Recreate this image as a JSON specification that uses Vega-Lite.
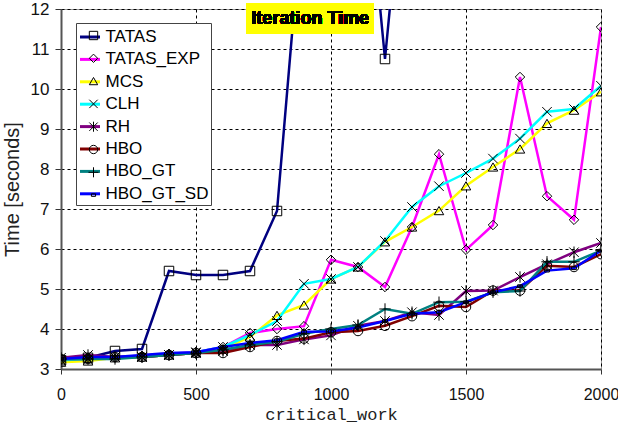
{
  "$schema": "https://vega.github.io/schema/vega-lite/v6.json",
  "width": 540,
  "height": 360,
  "autosize": {"type": "none"},
  "padding": {"left": 61, "top": 9, "right": 17, "bottom": 58},
  "background": "white",
  "config": {
    "font": "Liberation Sans",
    "view": {"stroke": "#999999", "strokeWidth": 1},
    "axis": {
      "domainColor": "#555555",
      "domainWidth": 2,
      "tickColor": "#333333",
      "tickSize": 5,
      "labelFont": "Liberation Sans",
      "labelFontSize": 16,
      "labelColor": "#111111",
      "labelOverlap": false,
      "labelFlush": false,
      "grid": true,
      "gridColor": "black",
      "gridDash": [3, 3],
      "gridWidth": 1,
      "titleFontWeight": "normal",
      "titleColor": "#222222"
    }
  },
  "data": {
    "values": [
      {"s": "TATAS", "x": 0, "y": 3.22}, {"s": "TATAS", "x": 100, "y": 3.28}, {"s": "TATAS", "x": 200, "y": 3.45}, {"s": "TATAS", "x": 300, "y": 3.5}, {"s": "TATAS", "x": 400, "y": 5.45}, {"s": "TATAS", "x": 500, "y": 5.35}, {"s": "TATAS", "x": 600, "y": 5.35}, {"s": "TATAS", "x": 700, "y": 5.45}, {"s": "TATAS", "x": 800, "y": 6.95}, {"s": "TATAS", "x": 900, "y": 14.9}, {"s": "TATAS", "x": 1000, "y": 17.0}, {"s": "TATAS", "x": 1100, "y": 17.8}, {"s": "TATAS", "x": 1200, "y": 10.75}, {"s": "TATAS", "x": 1300, "y": 17.8},
      {"s": "TATAS_EXP", "x": 0, "y": 3.25}, {"s": "TATAS_EXP", "x": 100, "y": 3.28}, {"s": "TATAS_EXP", "x": 200, "y": 3.3}, {"s": "TATAS_EXP", "x": 300, "y": 3.33}, {"s": "TATAS_EXP", "x": 400, "y": 3.38}, {"s": "TATAS_EXP", "x": 500, "y": 3.42}, {"s": "TATAS_EXP", "x": 600, "y": 3.55}, {"s": "TATAS_EXP", "x": 700, "y": 3.9}, {"s": "TATAS_EXP", "x": 800, "y": 4.0}, {"s": "TATAS_EXP", "x": 900, "y": 4.07}, {"s": "TATAS_EXP", "x": 1000, "y": 5.73}, {"s": "TATAS_EXP", "x": 1100, "y": 5.55}, {"s": "TATAS_EXP", "x": 1200, "y": 5.05}, {"s": "TATAS_EXP", "x": 1300, "y": 6.55}, {"s": "TATAS_EXP", "x": 1400, "y": 8.37}, {"s": "TATAS_EXP", "x": 1500, "y": 5.98}, {"s": "TATAS_EXP", "x": 1600, "y": 6.6}, {"s": "TATAS_EXP", "x": 1700, "y": 10.3}, {"s": "TATAS_EXP", "x": 1800, "y": 7.32}, {"s": "TATAS_EXP", "x": 1900, "y": 6.73}, {"s": "TATAS_EXP", "x": 2000, "y": 11.55},
      {"s": "MCS", "x": 0, "y": 3.17}, {"s": "MCS", "x": 100, "y": 3.2}, {"s": "MCS", "x": 200, "y": 3.28}, {"s": "MCS", "x": 300, "y": 3.3}, {"s": "MCS", "x": 400, "y": 3.35}, {"s": "MCS", "x": 500, "y": 3.4}, {"s": "MCS", "x": 600, "y": 3.5}, {"s": "MCS", "x": 700, "y": 3.8}, {"s": "MCS", "x": 800, "y": 4.34}, {"s": "MCS", "x": 900, "y": 4.6}, {"s": "MCS", "x": 1000, "y": 5.25}, {"s": "MCS", "x": 1100, "y": 5.55}, {"s": "MCS", "x": 1200, "y": 6.18}, {"s": "MCS", "x": 1300, "y": 6.55}, {"s": "MCS", "x": 1400, "y": 6.96}, {"s": "MCS", "x": 1500, "y": 7.58}, {"s": "MCS", "x": 1600, "y": 8.05}, {"s": "MCS", "x": 1700, "y": 8.5}, {"s": "MCS", "x": 1800, "y": 9.14}, {"s": "MCS", "x": 1900, "y": 9.47}, {"s": "MCS", "x": 2000, "y": 9.93},
      {"s": "CLH", "x": 0, "y": 3.22}, {"s": "CLH", "x": 100, "y": 3.25}, {"s": "CLH", "x": 200, "y": 3.3}, {"s": "CLH", "x": 300, "y": 3.3}, {"s": "CLH", "x": 400, "y": 3.35}, {"s": "CLH", "x": 500, "y": 3.42}, {"s": "CLH", "x": 600, "y": 3.55}, {"s": "CLH", "x": 700, "y": 3.85}, {"s": "CLH", "x": 800, "y": 4.2}, {"s": "CLH", "x": 900, "y": 5.13}, {"s": "CLH", "x": 1000, "y": 5.25}, {"s": "CLH", "x": 1100, "y": 5.55}, {"s": "CLH", "x": 1200, "y": 6.2}, {"s": "CLH", "x": 1300, "y": 7.05}, {"s": "CLH", "x": 1400, "y": 7.57}, {"s": "CLH", "x": 1500, "y": 7.9}, {"s": "CLH", "x": 1600, "y": 8.26}, {"s": "CLH", "x": 1700, "y": 8.76}, {"s": "CLH", "x": 1800, "y": 9.43}, {"s": "CLH", "x": 1900, "y": 9.5}, {"s": "CLH", "x": 2000, "y": 10.08},
      {"s": "RH", "x": 0, "y": 3.28}, {"s": "RH", "x": 100, "y": 3.35}, {"s": "RH", "x": 200, "y": 3.3}, {"s": "RH", "x": 300, "y": 3.3}, {"s": "RH", "x": 400, "y": 3.35}, {"s": "RH", "x": 500, "y": 3.4}, {"s": "RH", "x": 600, "y": 3.45}, {"s": "RH", "x": 700, "y": 3.6}, {"s": "RH", "x": 800, "y": 3.6}, {"s": "RH", "x": 900, "y": 3.74}, {"s": "RH", "x": 1000, "y": 3.84}, {"s": "RH", "x": 1100, "y": 4.08}, {"s": "RH", "x": 1200, "y": 4.2}, {"s": "RH", "x": 1300, "y": 4.42}, {"s": "RH", "x": 1400, "y": 4.35}, {"s": "RH", "x": 1500, "y": 4.95}, {"s": "RH", "x": 1600, "y": 4.96}, {"s": "RH", "x": 1700, "y": 5.3}, {"s": "RH", "x": 1800, "y": 5.62}, {"s": "RH", "x": 1900, "y": 5.92}, {"s": "RH", "x": 2000, "y": 6.15},
      {"s": "HBO", "x": 0, "y": 3.25}, {"s": "HBO", "x": 100, "y": 3.25}, {"s": "HBO", "x": 200, "y": 3.3}, {"s": "HBO", "x": 300, "y": 3.3}, {"s": "HBO", "x": 400, "y": 3.35}, {"s": "HBO", "x": 500, "y": 3.4}, {"s": "HBO", "x": 600, "y": 3.4}, {"s": "HBO", "x": 700, "y": 3.55}, {"s": "HBO", "x": 800, "y": 3.7}, {"s": "HBO", "x": 900, "y": 3.76}, {"s": "HBO", "x": 1000, "y": 3.92}, {"s": "HBO", "x": 1100, "y": 3.95}, {"s": "HBO", "x": 1200, "y": 4.08}, {"s": "HBO", "x": 1300, "y": 4.32}, {"s": "HBO", "x": 1400, "y": 4.58}, {"s": "HBO", "x": 1500, "y": 4.55}, {"s": "HBO", "x": 1600, "y": 4.96}, {"s": "HBO", "x": 1700, "y": 4.96}, {"s": "HBO", "x": 1800, "y": 5.58}, {"s": "HBO", "x": 1900, "y": 5.55}, {"s": "HBO", "x": 2000, "y": 5.87},
      {"s": "HBO_GT", "x": 0, "y": 3.25}, {"s": "HBO_GT", "x": 100, "y": 3.25}, {"s": "HBO_GT", "x": 200, "y": 3.25}, {"s": "HBO_GT", "x": 300, "y": 3.3}, {"s": "HBO_GT", "x": 400, "y": 3.35}, {"s": "HBO_GT", "x": 500, "y": 3.4}, {"s": "HBO_GT", "x": 600, "y": 3.48}, {"s": "HBO_GT", "x": 700, "y": 3.6}, {"s": "HBO_GT", "x": 800, "y": 3.68}, {"s": "HBO_GT", "x": 900, "y": 3.88}, {"s": "HBO_GT", "x": 1000, "y": 4.0}, {"s": "HBO_GT", "x": 1100, "y": 4.1}, {"s": "HBO_GT", "x": 1200, "y": 4.5}, {"s": "HBO_GT", "x": 1300, "y": 4.38}, {"s": "HBO_GT", "x": 1400, "y": 4.67}, {"s": "HBO_GT", "x": 1500, "y": 4.68}, {"s": "HBO_GT", "x": 1600, "y": 4.92}, {"s": "HBO_GT", "x": 1700, "y": 4.95}, {"s": "HBO_GT", "x": 1800, "y": 5.68}, {"s": "HBO_GT", "x": 1900, "y": 5.68}, {"s": "HBO_GT", "x": 2000, "y": 5.96},
      {"s": "HBO_GT_SD", "x": 0, "y": 3.25}, {"s": "HBO_GT_SD", "x": 100, "y": 3.3}, {"s": "HBO_GT_SD", "x": 200, "y": 3.3}, {"s": "HBO_GT_SD", "x": 300, "y": 3.35}, {"s": "HBO_GT_SD", "x": 400, "y": 3.4}, {"s": "HBO_GT_SD", "x": 500, "y": 3.42}, {"s": "HBO_GT_SD", "x": 600, "y": 3.55}, {"s": "HBO_GT_SD", "x": 700, "y": 3.65}, {"s": "HBO_GT_SD", "x": 800, "y": 3.72}, {"s": "HBO_GT_SD", "x": 900, "y": 3.93}, {"s": "HBO_GT_SD", "x": 1000, "y": 3.94}, {"s": "HBO_GT_SD", "x": 1100, "y": 4.04}, {"s": "HBO_GT_SD", "x": 1200, "y": 4.2}, {"s": "HBO_GT_SD", "x": 1300, "y": 4.38}, {"s": "HBO_GT_SD", "x": 1400, "y": 4.42}, {"s": "HBO_GT_SD", "x": 1500, "y": 4.67}, {"s": "HBO_GT_SD", "x": 1600, "y": 4.92}, {"s": "HBO_GT_SD", "x": 1700, "y": 5.07}, {"s": "HBO_GT_SD", "x": 1800, "y": 5.46}, {"s": "HBO_GT_SD", "x": 1900, "y": 5.52}, {"s": "HBO_GT_SD", "x": 2000, "y": 5.96}
    ]
  },
  "encoding": {
    "x": {
      "field": "x", "type": "quantitative",
      "scale": {"domain": [0, 2000], "nice": false},
      "axis": {"values": [0, 500, 1000, 1500, 2000], "format": "d", "title": "critical_work", "titleFont": "Liberation Mono", "titleFontSize": 17, "titlePadding": 4, "labelPadding": 12, "labelOverlap": false}
    },
    "y": {
      "field": "y", "type": "quantitative",
      "scale": {"domain": [3, 12], "nice": false},
      "axis": {"values": [3, 4, 5, 6, 7, 8, 9, 10, 11, 12], "labelOverlap": false, "format": "d", "title": "Time [seconds]", "titleFontSize": 20, "titlePadding": 8, "tickSize": 6, "labelPadding": 6, "labelFontSize": 17}
    }
  },
  "layer": [
    {
      "mark": {"type": "line", "strokeWidth": 2.5, "clip": true},
      "encoding": {
        "color": {
          "field": "s", "type": "nominal",
          "scale": {
            "domain": ["TATAS", "TATAS_EXP", "MCS", "CLH", "RH", "HBO", "HBO_GT", "HBO_GT_SD"],
            "range": ["#000080", "#FF00FF", "#FFFF00", "#00FFFF", "#800080", "#800000", "#008080", "#0000FF"]
          },
          "legend": {
            "title": null, "orient": "none", "legendX": 15, "legendY": 14, "direction": "vertical",
            "padding": 2.5, "rowPadding": 2.4, "labelFontSize": 17, "labelFont": "Liberation Sans", "labelColor": "black",
            "labelOffset": 4, "symbolType": "stroke", "symbolSize": 400, "symbolStrokeWidth": 3,
            "fillColor": "white", "strokeColor": "#444444", "labelLimit": 300
          }
        }
      }
    },
    {
      "mark": {"type": "point", "filled": false, "clip": true, "size": 90, "stroke": "black", "strokeWidth": 1, "opacity": 1},
      "encoding": {
        "shape": {
          "field": "s", "type": "nominal",
          "sort": ["TATAS", "TATAS_EXP", "MCS", "CLH", "RH", "HBO", "HBO_GT", "HBO_GT_SD"],
          "scale": {"range": ["square", "diamond", "triangle-up", "M-1,-1L1,1M-1,1L1,-1", "M-1,-1L1,1M-1,1L1,-1M0,-1.2L0,1.2", "circle", "M-1.2,0L1.2,0M0,-1.2L0,1.2", "M-0.5,-0.3H0.5V0.3H-0.5Z"]},
          "legend": {
            "title": null, "orient": "none", "legendX": 15, "legendY": 14, "direction": "vertical",
            "padding": 4, "rowPadding": 4.8, "labelFontSize": 17, "labelFont": "Liberation Sans", "labelOpacity": 0,
            "labelOffset": 4, "symbolSize": 70, "symbolStrokeWidth": 1, "symbolStrokeColor": "black", "symbolFillColor": "transparent",
            "symbolOffset": 5, "labelLimit": 300
          }
        }
      }
    },
    {
      "mark": {"type": "rect", "color": "#FFFF00", "clip": false},
      "encoding": {
        "x": {"datum": 688, "type": "quantitative", "axis": {"values": [0, 500, 1000, 1500, 2000], "format": "d", "title": "critical_work", "titleFont": "Liberation Mono", "titleFontSize": 17, "titlePadding": 4, "labelPadding": 12, "labelOverlap": false}},
        "x2": {"datum": 1158},
        "y": {"datum": 12.14, "type": "quantitative", "axis": {"values": [3, 4, 5, 6, 7, 8, 9, 10, 11, 12], "labelOverlap": false, "format": "d", "title": "Time [seconds]", "titleFontSize": 20, "titlePadding": 8, "tickSize": 6, "labelPadding": 6, "labelFontSize": 17}},
        "y2": {"datum": 11.39}
      }
    },
    {
      "mark": {"type": "text", "fontWeight": "bold", "fontSize": 18, "font": "Liberation Sans", "color": "black", "baseline": "middle", "align": "center", "clip": false},
      "encoding": {
        "x": {"datum": 923, "type": "quantitative", "axis": {"values": [0, 500, 1000, 1500, 2000], "format": "d", "title": "critical_work", "titleFont": "Liberation Mono", "titleFontSize": 17, "titlePadding": 4, "labelPadding": 12, "labelOverlap": false}},
        "y": {"datum": 11.76, "type": "quantitative", "axis": {"values": [3, 4, 5, 6, 7, 8, 9, 10, 11, 12], "labelOverlap": false, "format": "d", "title": "Time [seconds]", "titleFontSize": 20, "titlePadding": 8, "tickSize": 6, "labelPadding": 6, "labelFontSize": 17}},
        "text": {"value": "Iteration Time"}
      }
    }
  ]
}
